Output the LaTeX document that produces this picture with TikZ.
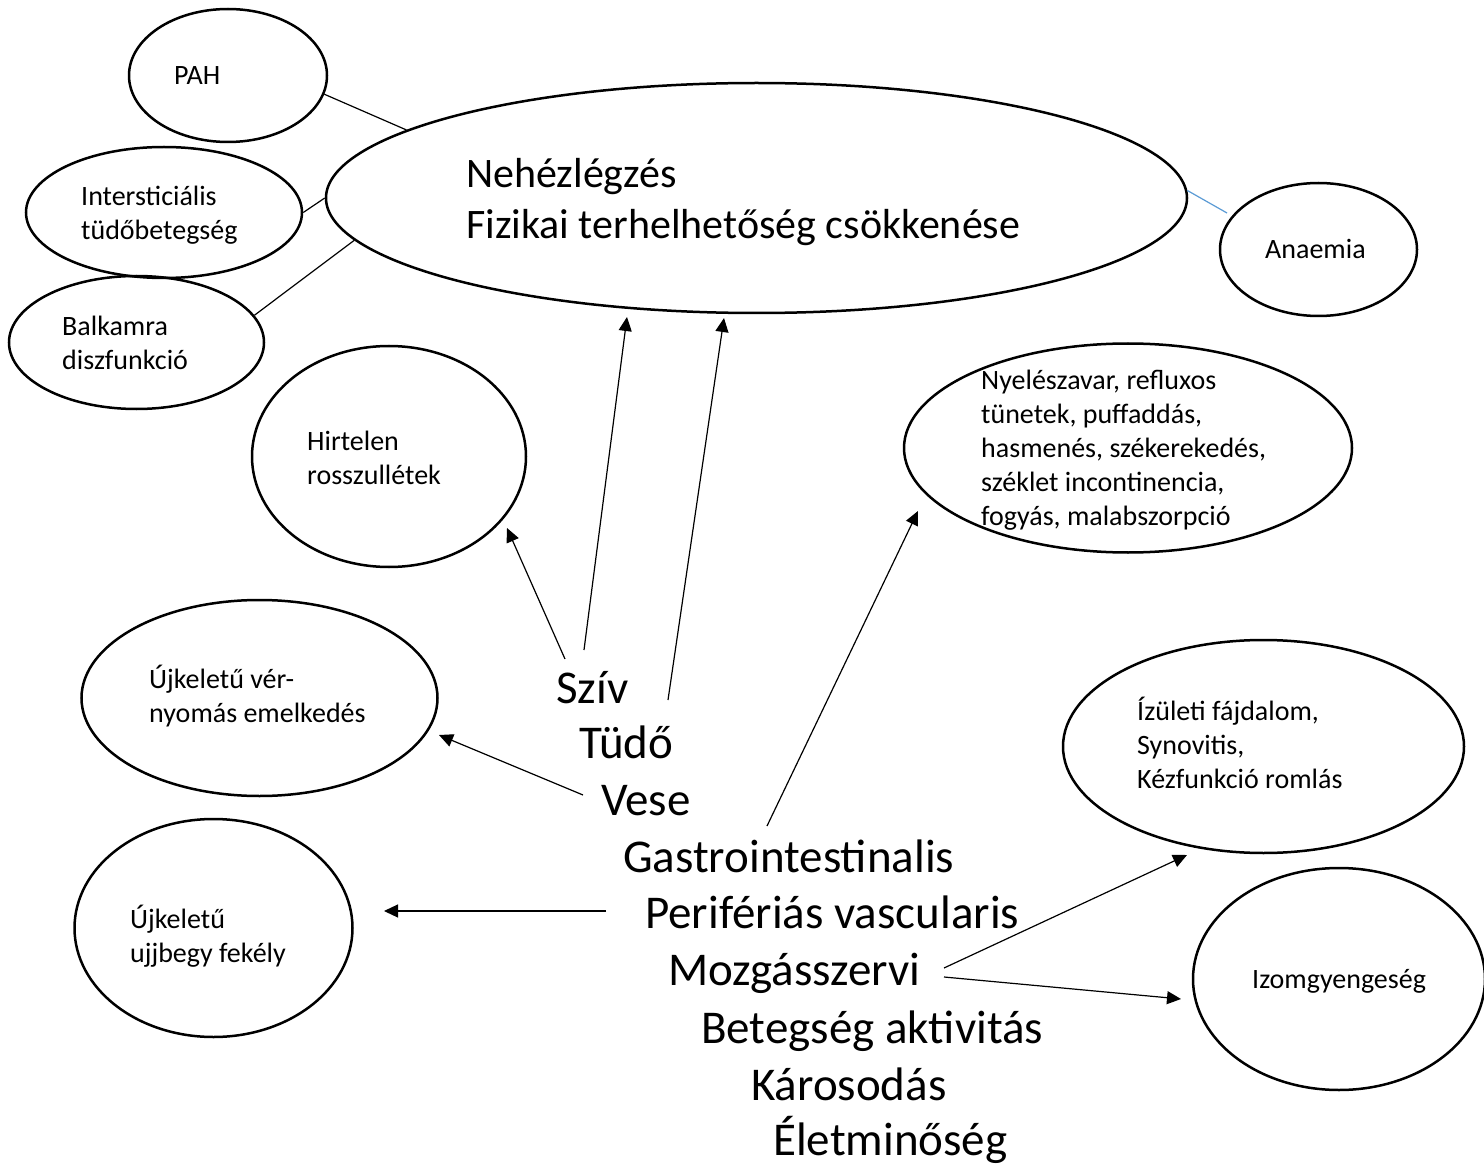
\documentclass[tikz,border=0pt]{standalone}
\usepackage{fontspec}
\setmainfont{Carlito}
\usetikzlibrary{shapes.geometric,arrows.meta,calc}
\definecolor{linkblue}{RGB}{91,155,213}
\begin{document}
\begin{tikzpicture}[x=1pt,y=-1pt,
  oval/.style 2 args={draw,ellipse,line width=2.5pt,inner sep=0pt,minimum width=#1,minimum height=#2},
  small/.style={font=\fontsize{28}{34}\selectfont,inner sep=0pt,anchor=base west,align=left},
  bigtxt/.style={font=\fontsize{42}{51}\selectfont,inner sep=0pt,anchor=base west,align=left},
  listtxt/.style={font=\fontsize{47}{57}\selectfont,inner sep=0pt,anchor=base west},
  link/.style={line width=1.2pt},
  bluelink/.style={line width=1.2pt,draw=linkblue},
  arr/.style={line width=1.2pt,-{Triangle[length=14pt,width=13pt]}}
]
\fill[white] (0,0) rectangle (1484,1166);
\useasboundingbox (0,0) rectangle (1484,1166);

% ellipses
\node[oval={198pt}{133pt}] (pah) at (228,75.5) {};
\node[oval={276pt}{131pt}] (inter) at (164,212.5) {};
\node[oval={255pt}{133pt}] (balk) at (136.5,342.5) {};
\node[oval={861pt}{230pt}] (big) at (756.5,198) {};
\node[oval={197pt}{133pt}] (anaemia) at (1318.5,249.5) {};
\node[oval={274pt}{221pt}] (hirt) at (389,456.5) {};
\node[oval={448pt}{209pt}] (nyel) at (1128,448) {};
\node[oval={356pt}{196pt}] (ver) at (259.5,698) {};
\node[oval={278pt}{218pt}] (ujj) at (213.5,928) {};
\node[oval={401pt}{213pt}] (izul) at (1263.5,746.5) {};
\node[oval={292pt}{222pt}] (izom) at (1339,979) {};

% texts in ellipses (base anchor = baseline of the last line)
\node[small] (tpah) at (174,85) {PAH};
\node[small] (tinter) at (81,240) {Intersticiális\\tüdőbetegség};
\node[small] (tbalk) at (62,370) {Balkamra\\diszfunkció};
\node[bigtxt] (tbig) at (466,239) {Nehézlégzés\\Fizikai terhelhetőség csökkenése};
\node[small] (tan) at (1265,259) {Anaemia};
\node[small] (thirt) at (307,484) {Hirtelen\\rosszullétek};
\node[small] (tnyel) at (981,525) {Nyelészavar, refluxos\\tünetek, puffaddás,\\hasmenés, székerekedés,\\széklet incontinencia,\\fogyás, malabszorpció};
\node[small] (tver) at (149,722) {Újkeletű vér-\\nyomás emelkedés};
\node[small] (tujj) at (130,962) {Újkeletű\\ujjbegy fekély};
\node[small] (tizul) at (1137,788) {Ízületi fájdalom,\\Synovitis,\\Kézfunkció romlás};
\node[small] (tizom) at (1252,988) {Izomgyengeség};

% list
\node[listtxt] (sziv) at (556,703) {Szív};
\node[listtxt] (tudo) at (579,758) {Tüdő};
\node[listtxt] (vese) at (601,815) {Vese};
\node[listtxt] (gastro) at (623,872) {Gastrointestinalis};
\node[listtxt] (perif) at (645,928) {Perifériás vascularis};
\node[listtxt] (mozg) at (668,985) {Mozgásszervi};
\node[listtxt] (beteg) at (701,1043) {Betegség aktivitás};
\node[listtxt] (karos) at (751,1100) {Károsodás};
\node[listtxt] (elet) at (773,1155) {Életminőség};

% plain links
\draw[link] (pah.-11) -- (big.169);
\draw[link] (inter.0) -- (big.180);
\draw[link] (balk.13) -- (big.186.5);
\draw[bluelink] (big.1) -- ($(anaemia.center)+(-91.5,-36.5)$);

% arrows
\draw[arr] ($(sziv.base west)+(9,-44)$) -- ($(hirt.center)+(118,71.5)$);
\draw[arr] ($(sziv.base west)+(28,-53)$) -- ($(big.center)+(-129.5,119)$);
\draw[arr] ($(tudo.base west)+(89,-58)$) -- ($(big.center)+(-32.5,120)$);
\draw[arr] ($(vese.base west)+(-18,-20)$) -- ($(ver.center)+(179.5,37)$);
\draw[arr] ($(gastro.base west)+(144,-46)$) -- ($(nyel.center)+(-210,63)$);
\draw[arr] ($(perif.base west)+(-39,-17)$) -- ($(ujj.center)+(170.5,-17)$);
\draw[arr] ($(mozg.base west)+(276,-17)$) -- ($(izul.center)+(-76.5,108.5)$);
\draw[arr] ($(mozg.base west)+(276,-8)$) -- ($(izom.center)+(-158,20)$);
\end{tikzpicture}
\end{document}
